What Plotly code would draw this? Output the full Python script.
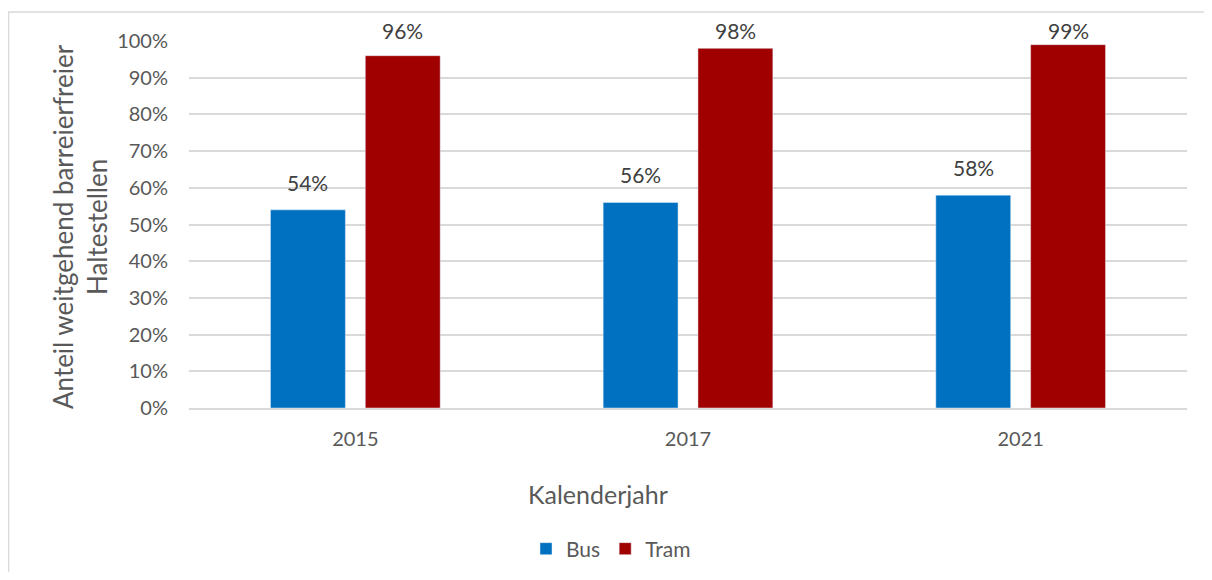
import plotly.graph_objects as go

years = ["2015", "2017", "2021"]
bus = [0.54, 0.56, 0.58]
tram = [0.96, 0.98, 0.99]
tick_vals = [i / 10 for i in range(11)]

FONT = "Lato, Open Sans, sans-serif"
OFF = 8  # default body margin of the html page
W, H = 1196, 564
# plot area in reference pixels
PX0, PX1, PY0, PY1 = 189, 1187, 41, 408
L = PX0 - OFF
T = PY0 - OFF
R = W - (PX1 - OFF)
B = H - (PY1 - OFF)
pw = PX1 - PX0
ph = PY1 - PY0


def px_x(x):
    return (x - PX0) / pw


def px_y(y):
    return (PY1 - y) / ph


fig = go.Figure()
fig.add_trace(go.Bar(name="Bus", x=years, y=bus, marker_color="#0070C0"))
fig.add_trace(go.Bar(name="Tram", x=years, y=tram, marker_color="#A00000"))

# data labels (Excel style: fixed gap above bar, clamped to chart top)
annotations = []
slot = 95
for vals, xs in ((bus, -slot / 2), (tram, slot / 2)):
    for i, v in enumerate(vals):
        top_px = PY1 - v * ph
        glyph_bottom = max(top_px - 18, 40)
        shift = top_px - glyph_bottom - 5
        annotations.append(dict(x=i, y=v, xref="x", yref="y", text=f"{v:.0%}",
                                showarrow=False, xshift=xs, yshift=shift,
                                yanchor="bottom", xanchor="center",
                                font=dict(size=21, color="#404040", family=FONT)))

annotations += [
    dict(text="Kalenderjahr", xref="paper", yref="paper",
         x=px_x(598), y=px_y(494), xanchor="center", yanchor="middle",
         showarrow=False, font=dict(size=25, color="#595959", family=FONT)),
    dict(text="Anteil weitgehend barreierfreier<br>Haltestellen", xref="paper", yref="paper",
         x=px_x(80), y=px_y(227), xanchor="center", yanchor="middle", textangle=-90,
         showarrow=False, font=dict(size=26, color="#595959", family=FONT)),
]

fig.update_layout(
    width=W, height=H,
    margin=dict(l=L, r=R, t=T, b=B, autoexpand=False),
    paper_bgcolor="white", plot_bgcolor="white",
    barmode="group", bargap=0.43, bargroupgap=0.21,
    font=dict(family=FONT, color="#595959", size=20),
    showlegend=True,
    legend=dict(orientation="h", x=px_x(611), xanchor="center",
                y=px_y(549), yanchor="middle", font=dict(size=21, color="#595959", family=FONT),
                itemwidth=30, traceorder="normal"),
    xaxis=dict(type="category", range=[-0.5, len(years) - 0.5], autorange=False,
               showgrid=False, showline=True, linecolor="#D9D9D9", linewidth=1.5,
               ticks="", tickfont=dict(size=20, color="#595959"), ticklabelstandoff=12),
    yaxis=dict(range=[0, 1], autorange=False, tickvals=tick_vals, tickformat=".0%",
               showgrid=True, gridcolor="#D9D9D9", gridwidth=1.5,
               zeroline=False, showline=False, ticks="",
               tickfont=dict(size=20, color="#595959"), ticklabelstandoff=20),
    annotations=annotations,
    shapes=[
        dict(type="rect", xref="paper", yref="paper",
             x0=px_x(8.5), x1=px_x(1240), y0=px_y(620), y1=px_y(12),
             line=dict(color="#D9D9D9", width=1.5), fillcolor="rgba(0,0,0,0)", layer="below"),
    ],
)

fig.write_html("out.html")
